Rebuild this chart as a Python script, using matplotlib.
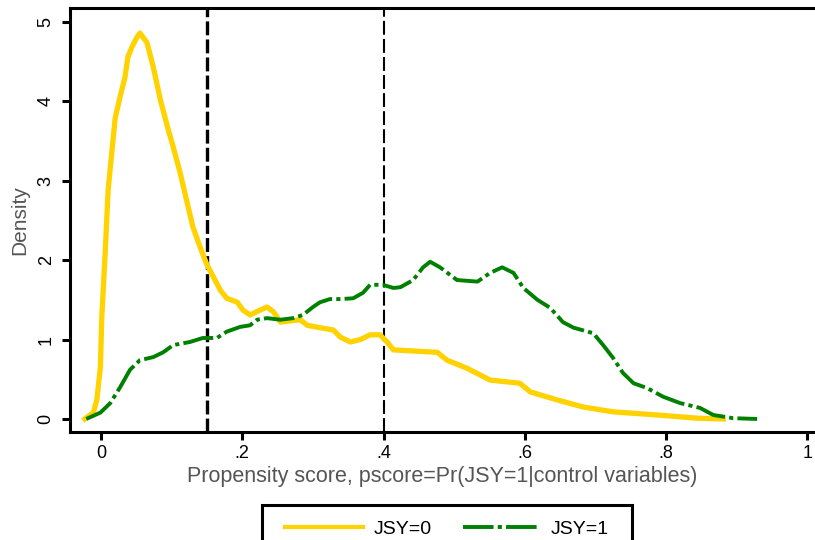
import matplotlib
matplotlib.use('Agg')
import matplotlib.pyplot as plt
from matplotlib.lines import Line2D
from matplotlib.patches import Rectangle

# Kernel density of propensity score, JSY=0 (yellow)
jsy0_x = [-0.023, -0.011, -0.006, -0.001, 0.001, 0.006, 0.010, 0.016, 0.020,
          0.027, 0.034, 0.038, 0.044, 0.051, 0.055, 0.065, 0.074, 0.084,
          0.094, 0.102, 0.112, 0.122, 0.130, 0.140, 0.150, 0.159, 0.169,
          0.178, 0.193, 0.201, 0.211, 0.225, 0.235, 0.244, 0.254, 0.282,
          0.292, 0.310, 0.329, 0.339, 0.353, 0.367, 0.381, 0.395, 0.405,
          0.414, 0.476, 0.490, 0.518, 0.551, 0.593, 0.608, 0.646, 0.683,
          0.725, 0.788, 0.844, 0.881]
jsy0_y = [0.00, 0.08, 0.24, 0.65, 1.28, 2.13, 2.88, 3.43, 3.79,
          4.06, 4.31, 4.56, 4.69, 4.81, 4.86, 4.74, 4.43, 4.02,
          3.68, 3.43, 3.10, 2.72, 2.42, 2.17, 1.94, 1.79, 1.62,
          1.52, 1.47, 1.37, 1.31, 1.37, 1.41, 1.35, 1.22, 1.25,
          1.18, 1.15, 1.12, 1.03, 0.97, 1.00, 1.06, 1.06, 0.97,
          0.87, 0.84, 0.74, 0.64, 0.49, 0.45, 0.34, 0.24, 0.15,
          0.09, 0.05, 0.01, 0.00]

# JSY=1 (green)
jsy1_x = [-0.021, -0.001, 0.013, 0.027, 0.041, 0.055, 0.074, 0.088, 0.102,
          0.126, 0.144, 0.164, 0.178, 0.197, 0.211, 0.221, 0.235, 0.254,
          0.272, 0.286, 0.300, 0.310, 0.324, 0.339, 0.357, 0.371, 0.381,
          0.399, 0.414, 0.424, 0.442, 0.456, 0.466, 0.480, 0.504, 0.533,
          0.551, 0.568, 0.584, 0.598, 0.618, 0.636, 0.654, 0.669, 0.697,
          0.711, 0.725, 0.739, 0.754, 0.773, 0.796, 0.820, 0.848, 0.867,
          0.895, 0.929]
jsy1_y = [0.00, 0.08, 0.20, 0.40, 0.62, 0.74, 0.78, 0.84, 0.93,
          0.97, 1.02, 1.02, 1.10, 1.16, 1.18, 1.25, 1.27, 1.25,
          1.27, 1.31, 1.41, 1.47, 1.51, 1.51, 1.52, 1.59, 1.69,
          1.69, 1.65, 1.66, 1.75, 1.91, 1.98, 1.91, 1.75, 1.73,
          1.84, 1.91, 1.84, 1.65, 1.50, 1.40, 1.22, 1.15, 1.08,
          0.93, 0.77, 0.58, 0.45, 0.39, 0.28, 0.20, 0.14, 0.05,
          0.01, 0.00]

cutoffs = [0.15, 0.40]
cutoff_widths = [2.4, 1.5]
xticks = [0, 0.2, 0.4, 0.6, 0.8, 1]
xticklabels = ['0', '.2', '.4', '.6', '.8', '1']
yticks = [0, 1, 2, 3, 4, 5]

YELLOW = '#ffd200'
GREEN = '#008000'

plt.rcParams['font.family'] = ['Liberation Sans', 'DejaVu Sans']
plt.rcParams['lines.scale_dashes'] = False

fig = plt.figure(figsize=(8.15, 5.4), dpi=100)
ax = fig.add_axes([70 / 815., 1 - 432 / 540., 1 - 70 / 815., 424 / 540.])

for xc, lw in zip(cutoffs, cutoff_widths):
    ax.axvline(xc, color='black', lw=lw, linestyle=(0, (10, 3)))

ax.plot(jsy0_x, jsy0_y, color=YELLOW, lw=3.8, solid_joinstyle='round',
        label='JSY=0')
green_ls = (0, (22, 3, 3, 3))
ax.plot(jsy1_x, jsy1_y, color=GREEN, lw=2.8, linestyle=green_ls,
        label='JSY=1')

ax.set_xlim(-0.044, 1.011)
ax.set_ylim(-0.164, 5.176)
ax.set_xticks(xticks)
ax.set_xticklabels(xticklabels)
ax.set_yticks(yticks)
ax.set_yticklabels([str(v) for v in yticks], rotation=90, va='center')
ax.tick_params(direction='out', length=6, width=2.2, labelsize=13,
               colors='black', pad=3)
ax.tick_params(axis='y', pad=5)
for side in ['left', 'bottom', 'top']:
    ax.spines[side].set_linewidth(2.2)
ax.spines['right'].set_visible(False)

ax.set_xlabel('Propensity score, pscore=Pr(JSY=1|control variables)',
              fontsize=15.5, color='#555555', labelpad=3)
ax.set_ylabel('Density', fontsize=15, color='#555555', labelpad=6)

# legend box runs off the bottom of the picture
fig.add_artist(Rectangle((262 / 815., -0.05), (632 - 262) / 815.,
                         0.05 + 1 - 505 / 540., transform=fig.transFigure,
                         fill=False, edgecolor='black', lw=2.2))
handles = [Line2D([], [], color=YELLOW, lw=3.0),
           Line2D([], [], color=GREEN, lw=2.8, linestyle=green_ls)]
fig.legend(handles, ['JSY=0', 'JSY=1'], loc='center',
           bbox_to_anchor=(447 / 815., 1 - 529 / 540.), ncol=2,
           frameon=False, fontsize=14, handlelength=4.0,
           handletextpad=0.55, columnspacing=1.6)

fig.savefig('out.png', dpi=100)
